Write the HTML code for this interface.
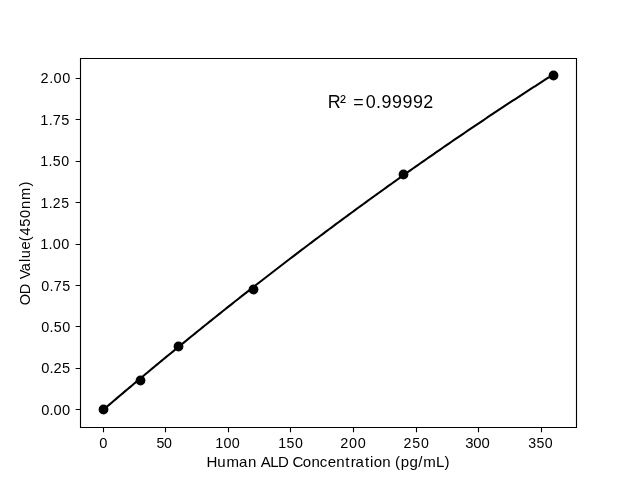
<!DOCTYPE html>
<html><head><meta charset="utf-8"><title>Standard Curve</title><style>html,body{margin:0;padding:0;background:#fff;width:640px;height:480px;overflow:hidden}svg{display:block;will-change:transform}text{font-family:"Liberation Sans",sans-serif;fill:#000}</style></head>
<body><svg width="640" height="480" viewBox="0 0 640 480">
<rect x="0" y="0" width="640" height="480" fill="#fff"/>
<path d="M102.55 410.40 L104.81 408.47 L107.08 406.53 L109.34 404.60 L111.61 402.68 L113.87 400.75 L116.14 398.83 L118.41 396.91 L120.67 394.99 L122.94 393.08 L125.20 391.17 L127.47 389.26 L129.74 387.35 L132.00 385.44 L134.27 383.54 L136.53 381.64 L138.80 379.74 L141.07 377.85 L143.33 375.96 L145.60 374.07 L147.86 372.18 L150.13 370.29 L152.39 368.41 L154.66 366.53 L156.93 364.65 L159.19 362.78 L161.46 360.91 L163.72 359.04 L165.99 357.17 L168.26 355.31 L170.52 353.44 L172.79 351.58 L175.05 349.72 L177.32 347.87 L179.59 346.02 L181.85 344.17 L184.12 342.32 L186.38 340.47 L188.65 338.63 L190.91 336.79 L193.18 334.95 L195.45 333.12 L197.71 331.29 L199.98 329.46 L202.24 327.63 L204.51 325.80 L206.78 323.98 L209.04 322.16 L211.31 320.34 L213.57 318.53 L215.84 316.71 L218.11 314.90 L220.37 313.10 L222.64 311.29 L224.90 309.49 L227.17 307.69 L229.43 305.89 L231.70 304.09 L233.97 302.30 L236.23 300.51 L238.50 298.72 L240.76 296.94 L243.03 295.15 L245.30 293.37 L247.56 291.60 L249.83 289.82 L252.09 288.05 L254.36 286.28 L256.62 284.51 L258.89 282.74 L261.16 280.98 L263.42 279.22 L265.69 277.46 L267.95 275.71 L270.22 273.95 L272.49 272.20 L274.75 270.45 L277.02 268.71 L279.28 266.97 L281.55 265.23 L283.82 263.49 L286.08 261.75 L288.35 260.02 L290.61 258.29 L292.88 256.56 L295.14 254.83 L297.41 253.11 L299.68 251.39 L301.94 249.67 L304.21 247.96 L306.47 246.24 L308.74 244.53 L311.01 242.82 L313.27 241.12 L315.54 239.41 L317.80 237.71 L320.07 236.01 L322.34 234.32 L324.60 232.63 L326.87 230.93 L329.13 229.25 L331.40 227.56 L333.66 225.88 L335.93 224.20 L338.20 222.52 L340.46 220.84 L342.73 219.17 L344.99 217.50 L347.26 215.83 L349.53 214.16 L351.79 212.50 L354.06 210.84 L356.32 209.18 L358.59 207.52 L360.86 205.87 L363.12 204.22 L365.39 202.57 L367.65 200.92 L369.92 199.28 L372.18 197.64 L374.45 196.00 L376.72 194.36 L378.98 192.73 L381.25 191.10 L383.51 189.47 L385.78 187.84 L388.05 186.22 L390.31 184.60 L392.58 182.98 L394.84 181.36 L397.11 179.75 L399.38 178.14 L401.64 176.53 L403.91 174.92 L406.17 173.32 L408.44 171.72 L410.70 170.12 L412.97 168.52 L415.24 166.93 L417.50 165.34 L419.77 163.75 L422.03 162.16 L424.30 160.58 L426.57 159.00 L428.83 157.42 L431.10 155.84 L433.36 154.27 L435.63 152.69 L437.89 151.13 L440.16 149.56 L442.43 147.99 L444.69 146.43 L446.96 144.87 L449.22 143.32 L451.49 141.76 L453.76 140.21 L456.02 138.66 L458.29 137.12 L460.55 135.57 L462.82 134.03 L465.09 132.49 L467.35 130.95 L469.62 129.42 L471.88 127.89 L474.15 126.36 L476.41 124.83 L478.68 123.31 L480.95 121.79 L483.21 120.27 L485.48 118.75 L487.74 117.23 L490.01 115.72 L492.28 114.21 L494.54 112.71 L496.81 111.20 L499.07 109.70 L501.34 108.20 L503.61 106.70 L505.87 105.21 L508.14 103.72 L510.40 102.23 L512.67 100.74 L514.93 99.26 L517.20 97.77 L519.47 96.29 L521.73 94.82 L524.00 93.34 L526.26 91.87 L528.53 90.40 L530.80 88.93 L533.06 87.47 L535.33 86.01 L537.59 84.55 L539.86 83.09 L542.13 81.64 L544.39 80.18 L546.66 78.73 L548.92 77.29 L551.19 75.84 L553.45 74.40" fill="none" stroke="#000" stroke-width="2.0833" stroke-linejoin="round" stroke-linecap="square"/>
<circle cx="103.50" cy="409.50" r="4.900" fill="#000"/>
<circle cx="140.50" cy="380.50" r="4.900" fill="#000"/>
<circle cx="178.50" cy="346.50" r="4.900" fill="#000"/>
<circle cx="253.50" cy="289.50" r="4.900" fill="#000"/>
<circle cx="403.50" cy="174.50" r="4.900" fill="#000"/>
<circle cx="553.50" cy="75.50" r="4.900" fill="#000"/>
<path d="M80.5 58.5 H576.5 V427.5 H80.5 Z" fill="none" stroke="#000" stroke-width="1.1111" stroke-linejoin="miter"/>
<path d="M103.5 427.5 V432.361 M165.5 427.5 V432.361 M228.5 427.5 V432.361 M290.5 427.5 V432.361 M353.5 427.5 V432.361 M416.5 427.5 V432.361 M478.5 427.5 V432.361 M541.5 427.5 V432.361 M80.5 409.5 H75.639 M80.5 368.5 H75.639 M80.5 326.5 H75.639 M80.5 285.5 H75.639 M80.5 244.5 H75.639 M80.5 202.5 H75.639 M80.5 161.5 H75.639 M80.5 119.5 H75.639 M80.5 78.5 H75.639" fill="none" stroke="#000" stroke-width="1.1111"/>
<text transform="translate(98.878 447.528) scale(0.9659 1)" x="0.36" y="0" font-size="15.158">0</text>
<text transform="translate(155.411 447.525) scale(0.9969 1)" x="1.18 8.55" y="0" font-size="14.275">50</text>
<text transform="translate(214.270 448.421) scale(0.9774 1)" x="1.02 9.47 17.84" y="0" font-size="14.717">100</text>
<text transform="translate(277.305 448.431) scale(0.9915 1)" x="0.95 9.35 17.77" y="0" font-size="14.275">150</text>
<text transform="translate(339.851 447.543) scale(0.9833 1)" x="0.39 9.38 18.20" y="0" font-size="14.717">200</text>
<text transform="translate(403.087 447.536) scale(0.9363 1)" x="0.53 9.88 19.16" y="0" font-size="15.158">250</text>
<text transform="translate(464.259 448.469) scale(0.9827 1)" x="0.98 9.27 17.58" y="0" font-size="15.145">300</text>
<text transform="translate(527.148 448.459) scale(0.9631 1)" x="1.15 9.61 18.20" y="0" font-size="14.717">350</text>
<text transform="translate(206.022 467.354) scale(0.9944 1)" x="0.53 11.38 20.51 33.05 42.27 50.95 54.96 64.69 72.38 83.29 86.89 97.33 106.00 114.44 122.30 130.97 140.13 145.58 150.21 159.79 164.91 168.55 177.22 185.91 190.02 195.91 204.56 213.49 218.42 231.39 239.76" y="0" font-size="15.158">Human ALD Concentration (pg/mL)</text>
<text transform="translate(40.220 414.680) scale(0.9965 1)" x="0.99 9.27 13.46 21.78" y="0" font-size="14.717">0.00</text>
<text transform="translate(40.343 373.286) scale(0.9970 1)" x="1.04 9.28 13.27 21.66" y="0" font-size="14.717">0.25</text>
<text transform="translate(40.349 331.822) scale(0.9800 1)" x="1.03 9.44 13.73 22.28" y="0" font-size="14.703">0.50</text>
<text transform="translate(40.336 291.401) scale(0.9723 1)" x="1.02 9.52 13.90 22.48" y="0" font-size="14.717">0.75</text>
<text transform="translate(39.326 248.857) scale(0.9835 1)" x="0.92 9.40 13.71 22.19" y="0" font-size="14.717">1.00</text>
<text transform="translate(39.372 208.479) scale(0.9539 1)" x="1.14 9.78 14.07 22.88" y="0" font-size="14.717">1.25</text>
<text transform="translate(39.254 166.021) scale(0.9954 1)" x="0.99 9.33 13.57 21.99" y="0" font-size="14.275">1.50</text>
<text transform="translate(39.401 124.596) scale(0.9853 1)" x="0.94 9.39 13.64 22.06" y="0" font-size="14.717">1.75</text>
<text transform="translate(40.072 83.284) scale(0.9569 1)" x="0.53 9.54 14.16 23.13" y="0" font-size="15.158">2.00</text>
<text transform="translate(30.006 305.391) rotate(-90) scale(0.9644 1)" x="0.04 11.64 22.78 27.01 35.50 44.96 48.93 57.94 66.43 72.47 81.54 90.72 99.86 109.29 123.21" y="0" font-size="15.158">OD Value(450nm)</text>
<text transform="translate(327.800 107.804) scale(1.0133 1)" x="0.06 12.01 18.50 25.20 37.44 47.66 52.91 63.27 73.62 83.98 94.17" y="0" font-size="17.660">R² =0.99992</text>
</svg></body></html>
